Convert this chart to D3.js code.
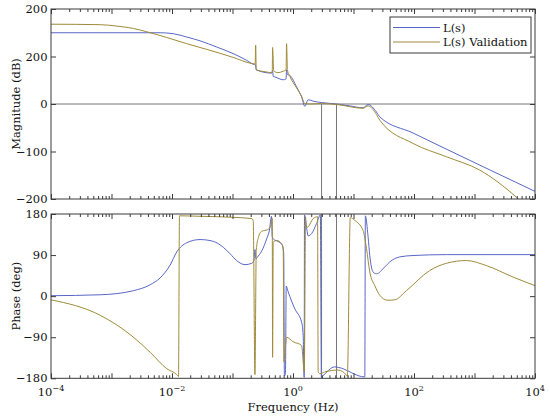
<!DOCTYPE html>
<html><head><meta charset="utf-8">
<script src="https://cdn.jsdelivr.net/npm/d3@7"></script>
<style>
body{margin:0;background:#fff}
svg text{font-family:"DejaVu Serif","Liberation Serif",serif}
</style>
</head><body>
<svg id="c" width="550" height="417"></svg>
<script>
// ---------- DATA ----------
const seriesNames = ["L(s)", "L(s) Validation"];
const magFreqBlue = [1e-4, 6.37e-3, 1.05e-2, 1.75e-2, 2.91e-2, 5.48e-2, 0.103, 0.171, 0.220, 0.237, 0.2415, 0.247, 0.444, 0.460, 0.471, 0.502, 0.689, 0.768, 0.783, 0.809, 0.889, 1.146, 1.387, 1.570, 1.782, 2.153, 2.965, 5.236, 8.690, 14.39, 17.42, 23.99, 27.16, 96.2, 343, 1e4];
const magBlue     = [150, 150, 148, 141, 133, 120, 106, 92, 84, 83, 80, 72, 65, 70, 58, 57, 51, 53, 72, 62, 60, 36, 15, -5, 9, 6, 3, 0, -4, -8, -1, -17, -27, -61, -95, -184];
const magFreqOlive = [1e-4, 6.52e-4, 1.23e-3, 2.31e-3, 3.84e-3, 8.20e-3, 1.75e-2, 3.75e-2, 0.103, 0.195, 0.237, 0.2415, 0.247, 0.344, 0.444, 0.454, 0.460, 0.479, 0.564, 0.689, 0.768, 0.783, 0.809, 0.889, 1.146, 1.387, 1.570, 1.901, 2.965, 5.236, 14.39, 17.42, 23.99, 27.16, 96.2, 343, 1213, 4898, 5984];
const magOlive     = [168, 167, 164, 159, 152, 140, 127, 115, 98, 86, 84, 124, 72, 68, 66, 67, 119, 70, 66, 69, 72, 127, 72, 58, 34, 16, 1, 0, 1, -1, -9, -4, -22, -34, -83, -111, -139, -196, -206];

const phFreqBlue = [1e-4, 6.52e-4, 2.31e-3, 4.36e-3, 6.37e-3, 9.31e-3, 1.20e-2, 1.75e-2, 2.91e-2, 4.82e-2, 7.05e-2, 9.10e-2, 0.117, 0.161, 0.208, 0.226, 0.235, 0.244, 0.267, 0.307, 0.366, 0.408, 0.441, 0.454, 0.484, 0.564, 0.656, 0.702, 0.721, 0.750, 0.773, 0.834, 1.074, 1.387, 1.472, 1.531, 1.549, 1.675, 1.782, 2.028, 2.449, 2.831, 2.944, 3.055, 4.909, 5.572, 15.38, 15.70, 17.42, 18.58, 21.04, 23.99, 32.81, 39.72, 58.08, 96.2, 343, 1e4];
const phBlue     = [1, 3, 12, 25, 40, 68, 97, 117, 124, 120, 107, 93, 78, 69, 72, 78, 102, 82, 88, 100, 125, 145, 175, 130, 124, 120, 113, 95, -175, -170, 22, 9, -28, -57, -86, -178, 178, 150, 132, 137, 159, 178, -178, -176, -155, -156, -177, 176, 130, 89, 53, 49, 64, 75, 86, 89, 91, 91];
const phFreqOlive = [1e-4, 6.52e-4, 2.31e-3, 4.36e-3, 8.20e-3, 1.20e-2, 1.28e-2, 1.33e-2, 2.91e-2, 9.10e-2, 0.208, 0.220, 0.235, 0.247, 0.267, 0.303, 0.386, 0.432, 0.454, 0.460, 0.471, 0.537, 0.649, 0.689, 0.708, 0.750, 0.783, 1.007, 1.387, 1.538, 1.614, 1.652, 1.782, 2.153, 2.547, 2.606, 2.780, 3.357, 5.572, 7.656, 7.907, 8.851, 10.50, 14.39, 16.41, 18.58, 22.49, 27.16, 36.8, 48.1, 75.0, 181.5, 343, 733, 1567, 4305, 1e4];
const phOlive     = [-8, -42, -90, -123, -159, -172, -176, 176, 175, 173, 170, 165, -172, 100, 128, 142, 146, 155, 170, -134, 118, 122, 115, 104, -144, -110, -90, -100, -108, -166, 174, 150, 152, 170, 174, -166, -170, -166, -162, -173, -176, 172, 166, 144, 104, 53, 23, 2, -9, -8, 12, 56, 72, 78, 67, 42, 23];

const markerFreqs = [2.965, 5.236];
const xDomain = [1e-4, 1e4];
const xMajorExps = [-4, -3, -2, -1, 0, 1, 2, 3, 4];
const xLabelExps = [-4, -2, 0, 2, 4];
const magTicks = [200, 100, 0, -100, -200];
const magTickLabels = ["200", "200", "0", "\u2212100", "\u2212200"];
const phTicks = [180, 90, 0, -90, -180];
const phTickLabels = ["180", "90", "0", "\u221290", "\u2212180"];
const colors = ["#5867c6", "#a08a3a"];

// ---------- LAYOUT ----------
const svg = d3.select("#c");
const FS = 11.5;
const L = 51, R = 535;
const x = d3.scaleLog().domain(xDomain).range([L, R]);
const yMag = d3.scaleLinear().domain([-200, 200]).range([199, 9]);
const yPh = d3.scaleLinear().domain([-180, 180]).range([378.3, 214]);
const frameColor = "#3a3a3a";

const minorVals = [];
xMajorExps.forEach(e => { if (e < 4) for (let k = 2; k <= 9; k++) minorVals.push(k * Math.pow(10, e)); });
const majorVals = xMajorExps.map(e => Math.pow(10, e));

function zip(f, v) { return f.map((d, i) => [d, v[i]]); }

function panel(id, y, ticks, tickLabels, series, grayFn) {
  const [y0, y1] = y.range();
  const g = svg.append("g");
  g.append("clipPath").attr("id", id).append("rect")
    .attr("x", L).attr("y", y1).attr("width", R - L).attr("height", y0 - y1);
  const inner = g.append("g").attr("clip-path", `url(#${id})`);
  grayFn(inner);
  const line = d3.line().x(d => x(d[0])).y(d => y(d[1])).curve(d3.curveMonotoneX);
  series.forEach((s, i) => {
    inner.append("path").datum(s).attr("d", line)
      .attr("fill", "none").attr("stroke", colors[i]).attr("stroke-width", 1)
      .attr("stroke-linejoin", "round");
  });
  g.append("rect").attr("x", L).attr("y", y1).attr("width", R - L).attr("height", y0 - y1)
    .attr("fill", "none").attr("stroke", frameColor).attr("stroke-width", 1);
  [[d3.axisBottom(x), y0], [d3.axisTop(x), y1]].forEach(([ax, pos]) => {
    const gm = g.append("g").attr("transform", `translate(0,${pos})`)
      .call(ax.tickValues(minorVals).tickSize(-3).tickFormat(""));
    gm.select(".domain").remove();
    gm.selectAll("line").attr("stroke", frameColor);
  });
  [[d3.axisBottom(x), y0], [d3.axisTop(x), y1]].forEach(([ax, pos]) => {
    const gM = g.append("g").attr("transform", `translate(0,${pos})`)
      .call(ax.tickValues(majorVals).tickSize(-5).tickFormat(""));
    gM.select(".domain").remove();
    gM.selectAll("line").attr("stroke", frameColor);
  });
  [[d3.axisLeft(y), L], [d3.axisRight(y), R]].forEach(([ax, pos]) => {
    const gy = g.append("g").attr("transform", `translate(${pos},0)`)
      .call(ax.tickValues(ticks).tickSize(-5).tickFormat(""));
    gy.select(".domain").remove();
    gy.selectAll("line").attr("stroke", frameColor);
  });
  ticks.forEach((t, i) => {
    g.append("text").attr("x", L - 3.5).attr("y", y(t)).attr("dy", "0.35em")
      .attr("text-anchor", "end").attr("font-size", FS).attr("fill", "#111").text(tickLabels[i]);
  });
  return g;
}

panel("clipMag", yMag, magTicks, magTickLabels,
  [zip(magFreqBlue, magBlue), zip(magFreqOlive, magOlive)],
  inner => {
    inner.append("line").attr("x1", L).attr("x2", R).attr("y1", yMag(0)).attr("y2", yMag(0))
      .attr("stroke", "#777").attr("stroke-width", 1);
    markerFreqs.forEach(f => inner.append("line").attr("x1", x(f)).attr("x2", x(f))
      .attr("y1", yMag(0)).attr("y2", yMag(-200)).attr("stroke", "#777").attr("stroke-width", 1));
  });

panel("clipPh", yPh, phTicks, phTickLabels,
  [zip(phFreqBlue, phBlue), zip(phFreqOlive, phOlive)],
  inner => {
    markerFreqs.forEach(f => inner.append("line").attr("x1", x(f)).attr("x2", x(f))
      .attr("y1", yPh(180)).attr("y2", yPh(-180)).attr("stroke", "#777").attr("stroke-width", 1));
  });

xLabelExps.forEach(e => {
  const t = svg.append("text").attr("x", x(Math.pow(10, e))).attr("y", 396)
    .attr("text-anchor", "middle").attr("font-size", FS).attr("fill", "#111");
  t.append("tspan").text("10");
  t.append("tspan").attr("dy", -5).attr("font-size", 8).text(e < 0 ? "\u2212" + Math.abs(e) : String(e));
});

svg.append("text").attr("x", x(1)).attr("y", 411).attr("text-anchor", "middle")
  .attr("font-size", FS).attr("fill", "#111").text("Frequency (Hz)");
svg.append("text").attr("transform", `translate(20,${yMag(0)}) rotate(-90)`)
  .attr("text-anchor", "middle").attr("font-size", FS).attr("fill", "#111").text("Magnitude (dB)");
svg.append("text").attr("transform", `translate(20,${yPh(0)}) rotate(-90)`)
  .attr("text-anchor", "middle").attr("font-size", FS).attr("fill", "#111").text("Phase (deg)");

const lg = svg.append("g");
lg.append("rect").attr("x", 390).attr("y", 17).attr("width", 141).attr("height", 36)
  .attr("fill", "#fff").attr("stroke", frameColor).attr("stroke-width", 1);
seriesNames.forEach((n, i) => {
  const yy = 27.5 + i * 14.5;
  lg.append("line").attr("x1", 393).attr("x2", 440).attr("y1", yy).attr("y2", yy)
    .attr("stroke", colors[i]).attr("stroke-width", 1);
  lg.append("text").attr("x", 443).attr("y", yy).attr("dy", "0.35em")
    .attr("font-size", FS).attr("fill", "#111").text(n);
});
</script>
</body></html>
